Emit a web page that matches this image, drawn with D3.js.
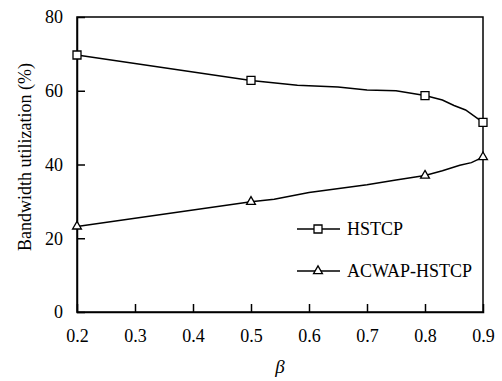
<!DOCTYPE html>
<html>
<head>
<meta charset="UTF-8">
<title>Bandwidth utilization</title>
<script src="https://cdn.jsdelivr.net/npm/d3@7"></script>
<style>
* { margin: 0; padding: 0; }
body { background: #fff; }
#chart { display: block; }
</style>
</head>
<body>
<svg id="chart" width="502" height="381"></svg>
<script>
// values
const hstcpX = [0.2, 0.5, 0.58, 0.65, 0.7, 0.75, 0.8, 0.83, 0.85, 0.87, 0.9];
const hstcpY = [69.7, 62.8, 61.5, 61, 60.2, 60, 58.7, 57.5, 56, 54.8, 51.4];
const hstcpMarks = [0.2, 0.5, 0.8, 0.9];

const acwapX = [0.2, 0.5, 0.54, 0.6, 0.7, 0.75, 0.8, 0.83, 0.86, 0.88, 0.9];
const acwapY = [23.2, 29.9, 30.6, 32.4, 34.5, 35.8, 37, 38.3, 39.8, 40.5, 42];
const acwapMarks = [0.2, 0.5, 0.8, 0.9];

const xTicks = [0.2, 0.3, 0.4, 0.5, 0.6, 0.7, 0.8, 0.9];
const yTicks = [0, 20, 40, 60, 80];

(function() {
    const FONT = "Liberation Serif";
    const svg = d3.select("#chart");
    const left = 77, right = 483, top = 17, bottom = 312;

    const x = d3.scaleLinear().domain([0.2, 0.9]).range([left, right]);
    const y = d3.scaleLinear().domain([0, 80]).range([bottom, top]);

    // frame
    svg.append("rect")
        .attr("x", left).attr("y", top)
        .attr("width", right - left).attr("height", bottom - top)
        .attr("fill", "none").attr("stroke", "#000").attr("stroke-width", 1.5);

    // axes with inward ticks
    const xAxis = svg.append("g")
        .attr("transform", `translate(0,${bottom})`)
        .call(d3.axisBottom(x).tickValues(xTicks).tickSize(-8).tickPadding(17)
            .tickFormat(d3.format(".1f")));
    const yAxis = svg.append("g")
        .attr("transform", `translate(${left},0)`)
        .call(d3.axisLeft(y).tickValues(yTicks).tickSize(-8).tickPadding(14)
            .tickFormat(d3.format("d")));

    [xAxis, yAxis].forEach(a => {
        a.attr("font-family", FONT).attr("font-size", 18);
        a.select(".domain").attr("stroke", "#000").attr("stroke-width", 1.5);
        a.selectAll(".tick line").attr("stroke", "#000").attr("stroke-width", 1.5);
        a.selectAll(".tick text")
            .style("font-family", FONT)
            .style("font-size", "18px")
            .attr("fill", "#000");
    });
    // ends of the axes are covered by the frame
    xAxis.selectAll(".tick").filter(d => d === 0.2 || d === 0.9).select("line").remove();
    yAxis.selectAll(".tick").filter(d => d === 0 || d === 80).select("line").remove();

    const line = d3.line().x(d => x(d[0])).y(d => y(d[1]));

    const hstcp = d3.zip(hstcpX, hstcpY);
    const acwap = d3.zip(acwapX, acwapY);

    svg.append("path").datum(hstcp).attr("d", line)
        .attr("fill", "none").attr("stroke", "#000").attr("stroke-width", 1.5);
    svg.append("path").datum(acwap).attr("d", line)
        .attr("fill", "none").attr("stroke", "#000").attr("stroke-width", 1.5);

    const sq = d3.symbol().type(d3.symbolSquare).size(64);
    const tri = d3.symbol().type(d3.symbolTriangle).size(34);

    svg.selectAll(".sq").data(hstcp.filter(d => hstcpMarks.includes(d[0])))
        .enter().append("path").attr("class", "sq")
        .attr("d", sq)
        .attr("transform", d => `translate(${x(d[0])},${y(d[1])})`)
        .attr("fill", "#fff").attr("stroke", "#000").attr("stroke-width", 1.3);
    svg.selectAll(".tri").data(acwap.filter(d => acwapMarks.includes(d[0])))
        .enter().append("path").attr("class", "tri")
        .attr("d", tri)
        .attr("transform", d => `translate(${x(d[0])},${y(d[1])})`)
        .attr("fill", "#fff").attr("stroke", "#000").attr("stroke-width", 1.3);

    // legend
    const legend = [
        { name: "HSTCP", sym: sq, y: 229 },
        { name: "ACWAP-HSTCP", sym: tri, y: 271 }
    ];
    legend.forEach(l => {
        svg.append("line").attr("x1", 297).attr("x2", 340)
            .attr("y1", l.y).attr("y2", l.y)
            .attr("stroke", "#000").attr("stroke-width", 1.5);
        svg.append("path").attr("d", l.sym)
            .attr("transform", `translate(318,${l.y})`)
            .attr("fill", "#fff").attr("stroke", "#000").attr("stroke-width", 1.3);
        svg.append("text").attr("x", 347).attr("y", l.y + 6)
            .style("font-family", FONT).style("font-size", "18px").text(l.name);
    });

    // axis titles
    svg.append("text")
        .attr("transform", "translate(31,157) rotate(-90)")
        .attr("text-anchor", "middle")
        .style("font-family", FONT).style("font-size", "18px")
        .text("Bandwidth utilization (%)");
    svg.append("text")
        .attr("x", x(0.55)).attr("y", 373)
        .attr("text-anchor", "middle")
        .style("font-family", FONT).style("font-size", "19px").style("font-style", "italic")
        .text("β");
})();
</script>
</body>
</html>
